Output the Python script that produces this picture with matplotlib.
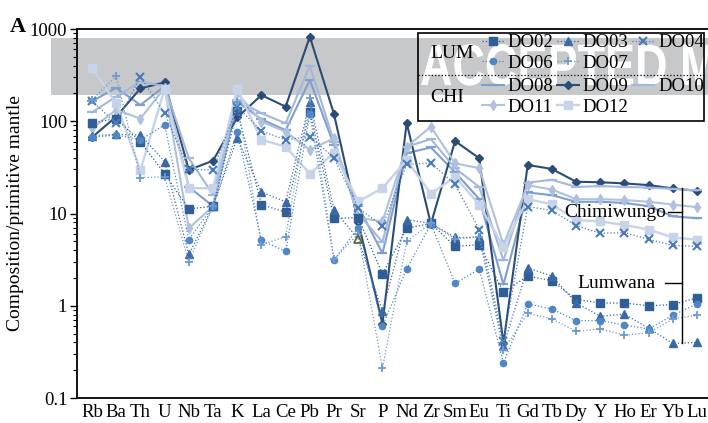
import matplotlib
matplotlib.use("Agg")
import matplotlib.pyplot as plt
from matplotlib.patches import Rectangle, PathPatch
from matplotlib.textpath import TextPath
from matplotlib.font_manager import FontProperties
from matplotlib.transforms import Affine2D
from matplotlib.ticker import LogLocator, NullFormatter

plt.rcParams['font.family'] = ['Liberation Serif', 'DejaVu Serif']

# trace elements, normalised to primitive mantle
elements = ['Rb', 'Ba', 'Th', 'U', 'Nb', 'Ta', 'K', 'La', 'Ce', 'Pb', 'Pr', 'Sr', 'P',
            'Nd', 'Zr', 'Sm', 'Eu', 'Ti', 'Gd', 'Tb', 'Dy', 'Y', 'Ho', 'Er', 'Yb', 'Lu']

# Lumwana samples
do02 = [96, 107, 60, 27, 11.2, 12, 130, 12.5, 10.3, 127, 8.9, 9, 2.2, 6.9, 7.8, 4.4, 4.6,
        1.4, 2.1, 1.87, 1.17, 1.07, 1.07, 1.0, 1.03, 1.22]
do03 = [70, 72, 71, 36.6, 3.6, 12, 65.5, 17.1, 13.4, 163, 10.9, 5.3, 0.87, 8.6, 7.8, 5.5, 5.5,
        0.37, 2.58, 2.1, 1.07, 0.77, 0.81, 0.57, 0.39, 0.40]
do04 = [165, 95, 303, 122, 30, 29.7, 144, 78.5, 63, 68.3, 40, 11.5, 7.3, 34, 35.3, 20.7, 6.7,
        0.42, 11.9, 10.8, 7.4, 6.1, 6.2, 5.25, 4.5, 4.4]
do06 = [67, 71, 63, 91, 5.2, 12, 77, 5.1, 3.9, 120, 3.1, 7, 0.6, 2.5, 7.7, 1.75, 2.5,
        0.24, 1.05, 0.92, 0.69, 0.69, 0.62, 0.56, 0.79, 1.05]
do07 = [170, 310, 24.5, 25, 3.0, 12, 160, 4.6, 5.6, 177, 3.2, 6, 0.21, 5, 7.8, 5.3, 5.6,
        0.33, 0.83, 0.72, 0.53, 0.56, 0.48, 0.51, 0.72, 0.79]
# Chimiwungo samples
do08 = [165, 230, 150, 240, 19.4, 12, 163, 105, 80, 280, 55, 12, 3.7, 45, 52, 28, 14.3,
        1.7, 16.9, 15.8, 13.4, 13.4, 13, 12, 9.3, 8.9]
do09 = [67, 112, 227, 264, 29.7, 37.3, 110, 192, 144, 825, 119, 8, 0.64, 96, 7.7, 61, 39.7,
        0.39, 33.6, 30.4, 22.1, 21.8, 21.2, 20.3, 18.7, 17.6]
do10 = [125, 185, 268, 240, 39.7, 16, 170, 122, 95, 400, 60, 10, 4.9, 53, 64, 31, 19.4,
        3.1, 21.6, 23.2, 19.4, 19.8, 19.4, 19.1, 18.5, 17.8]
do11 = [84, 133, 107, 230, 6.9, 12, 203, 99, 77, 49, 65.5, 9, 8.2, 53, 87, 35, 31,
        4.6, 20.2, 18.2, 14.3, 14.3, 14, 13.4, 12.5, 11.7]
do12 = [380, 156, 29.5, 222, 18.8, 18.8, 224, 63, 53, 27, 45.5, 13.5, 18.8, 38, 16.4, 25, 12.5,
        4.3, 14.3, 12.6, 8.5, 8.2, 7.5, 6.7, 5.5, 5.2]

lum_names = ['DO02', 'DO03', 'DO04', 'DO06', 'DO07']
chi_names = ['DO08', 'DO09', 'DO10', 'DO11', 'DO12']
samples = {'DO02': do02, 'DO03': do03, 'DO04': do04, 'DO06': do06, 'DO07': do07,
           'DO08': do08, 'DO09': do09, 'DO10': do10, 'DO11': do11, 'DO12': do12}
ytick_vals = [0.1, 1, 10, 100, 1000]
ytick_labels = ['0.1', '1', '10', '100', '1000']

styles = {
    'DO02': dict(color='#2f5f96', marker='s', ms=5.5, ls=':', lw=0.9),
    'DO03': dict(color='#3a6aa6', marker='^', ms=5.5, ls=':', lw=0.9),
    'DO04': dict(color='#4a7cba', marker='x', ms=5.5, ls=':', lw=0.9, mew=1.5),
    'DO06': dict(color='#4f86c6', marker='o', ms=4.5, ls=':', lw=0.9),
    'DO07': dict(color='#6d9ad2', marker='+', ms=6, ls=':', lw=0.9, mew=1.3),
    'DO08': dict(color='#7f9fcf', marker='_', ms=7, ls='-', lw=1.5, mew=1.6),
    'DO09': dict(color='#2b4c76', marker='D', ms=4, ls='-', lw=1.5),
    'DO10': dict(color='#a3b8dc', marker='_', ms=7, ls='-', lw=1.5, mew=1.6),
    'DO11': dict(color='#b0c1de', marker='d', ms=5.5, ls='-', lw=1.5),
    'DO12': dict(color='#c7d3e8', marker='s', ms=6, ls='-', lw=1.7),
}

W, H = 708, 423
fig = plt.figure(figsize=(W / 100, H / 100), dpi=100)

# grey watermark band behind the plot
fig.patches.append(Rectangle((51 / W, 1 - 95 / H), 1 - 51 / W, 57 / H,
                             transform=fig.transFigure, facecolor='#c7c8ca',
                             edgecolor='none', zorder=-2))
tp = TextPath((0, 0), 'ACCEPTED MANUSCRIPT', size=1,
              prop=FontProperties(family='Liberation Sans', weight='bold'))
wm_tr = Affine2D().scale(0.45, 0.585).translate(4.2, (H - 85) / 100) + fig.dpi_scale_trans
fig.patches.append(PathPatch(tp, transform=wm_tr, facecolor='white',
                             edgecolor='none', zorder=-1))

ax = fig.add_axes([77 / W, 25 / H, 631 / W, 369 / H])
ax.patch.set_alpha(0)
x = list(range(len(elements)))
sr = elements.index('Sr')

for name in chi_names + lum_names:
    kw = dict(styles[name])
    if name == 'DO03':
        kw['markevery'] = [i for i in x if i != sr]
    ax.plot(x, samples[name], label=name, **kw)
# the Sr point of DO03 is an open green triangle
ax.plot(x, do03, ls='none', marker='^', ms=6, mfc='none', mec='#556b2f', mew=1.3,
        markevery=[sr])

ax.set_yscale('log')
ax.set_ylim(0.1, 1000)
ax.set_xlim(-0.62, 25.45)
ax.set_yticks(ytick_vals)
ax.set_yticklabels(ytick_labels)
ax.yaxis.set_minor_locator(LogLocator(base=10, subs=range(2, 10)))
ax.yaxis.set_minor_formatter(NullFormatter())
ax.tick_params(axis='y', which='major', length=5, width=1, labelsize=13.5, pad=2)
ax.tick_params(axis='y', which='minor', length=3, width=0.8)
ax.set_xticks(x)
ax.set_xticklabels(elements)
ax.tick_params(axis='x', length=0, labelsize=13.5, pad=4)
ax.spines['right'].set_visible(False)
for s in ['left', 'top', 'bottom']:
    ax.spines[s].set_linewidth(1.3)
ax.set_ylabel('Composition/primitive mantle', fontsize=14, labelpad=4)

# legend: two groups inside one box
handles = {h.get_label(): h for h in ax.get_lines()}
leg_kw = dict(ncol=3, frameon=False, fontsize=13.5, handlelength=1.17, handletextpad=0.2,
              columnspacing=0.2, labelspacing=0.2, borderpad=0, borderaxespad=0,
              loc='upper left', bbox_transform=fig.transFigure)
lum_order = ['DO02', 'DO06', 'DO03', 'DO07', 'DO04']
chi_order = ['DO08', 'DO11', 'DO09', 'DO12', 'DO10']
leg1 = ax.legend([handles[n] for n in lum_order], lum_order,
                 bbox_to_anchor=(482 / W, 1 - 34 / H), **leg_kw)
ax.add_artist(leg1)
ax.legend([handles[n] for n in chi_order], chi_order,
          bbox_to_anchor=(482 / W, 1 - 78 / H), **leg_kw)
fig.patches.append(Rectangle((418 / W, 1 - 121 / H), 286 / W, 87.5 / H,
                             transform=fig.transFigure, fill=False,
                             edgecolor='black', lw=1.2))
fig.lines.append(plt.Line2D([418 / W, 704 / W], [1 - 75.5 / H, 1 - 75.5 / H],
                            transform=fig.transFigure, color='black', ls=':', lw=0.9))
fig.text(430 / W, 1 - 53 / H, 'LUM', fontsize=14, va='center', ha='left')
fig.text(430 / W, 1 - 98 / H, 'CHI', fontsize=14, va='center', ha='left')

# bracket with the two deposit names
ax.plot([24.37, 24.37], [18.9, 0.394], color='black', lw=1.0)
ax.plot([23.8, 24.37], [10.3, 10.3], color='black', lw=1.0)
ax.plot([23.67, 24.37], [1.75, 1.75], color='black', lw=1.0)
ax.text(23.7, 10.3, 'Chimiwungo', fontsize=14, ha='right', va='center')
ax.text(23.3, 1.75, 'Lumwana', fontsize=14, ha='right', va='center')

fig.text(10 / W, 1 - 32 / H, 'A', fontsize=16, fontweight='bold', ha='left', va='baseline')

fig.savefig('out.png', dpi=100)
